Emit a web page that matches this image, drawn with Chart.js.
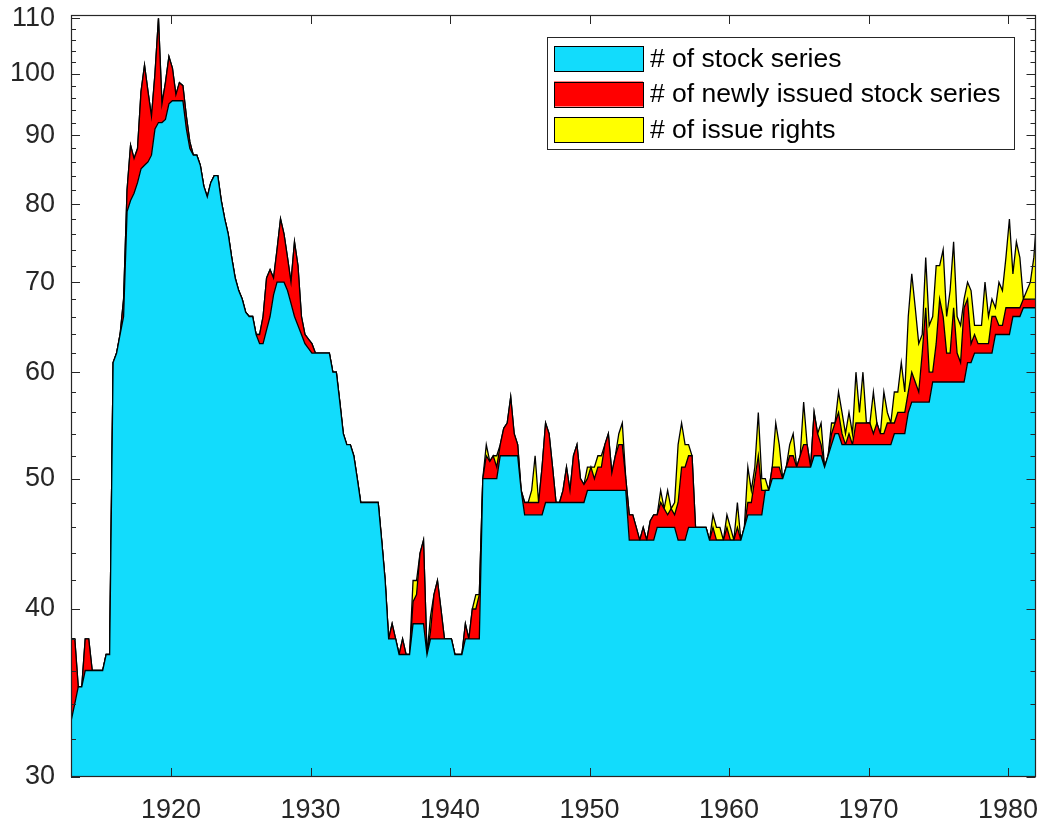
<!DOCTYPE html>
<html>
<head>
<meta charset="utf-8">
<script src="https://cdn.jsdelivr.net/npm/chart.js@4/dist/chart.umd.min.js"></script>
<style>
html,body{margin:0;padding:0;background:#fff;}
#wrap{width:1045px;height:825px;position:relative;}
</style>
</head>
<body>
<div id="wrap"><canvas id="c" width="1045" height="825"></canvas></div>
<script>
// ---- time grid (years) ----
const startYear = 1912.83;
const endYear = 1981.97;
const quarterOffsets = [0.10, 0.35, 0.60, 0.85];

// ---- tick labels ----
const xTickYears = [1920, 1930, 1940, 1950, 1960, 1970, 1980];
const yTickValues = [30,32,34,36,38,40,42,44,46,48,50,52,54,56,58,60,62,64,66,68,70,72,74,76,78,80,82,84,86,88,90,92,94,96,98,100,102,104,106,108,110];

// ---- series labels ----
const seriesNames = ['# of stock series', '# of newly issued stock series', '# of issue rights'];

// ---- # of stock series (first point, then 4 per year 1913..1981, then last point) ----
const stockSeries = [
  33,
  34, 35, 35, 36,       // 1913
  36, 36, 36, 36,       // 1914
  36, 37, 37, 61,       // 1915
  62, 64, 66, 79,       // 1916
  80.5, 81.5, 83, 85,   // 1917
  85.5, 86, 87, 91,     // 1918
  92, 92, 92.5, 95,     // 1919
  95.5, 95.5, 95.5, 95.5, // 1920
  91, 88, 87, 87,       // 1921
  85.5, 82.5, 81, 83,   // 1922
  84, 84, 80.5, 78,     // 1923
  76, 73, 70.5, 69,     // 1924
  68, 66.5, 66, 66,     // 1925
  64, 63, 63, 64.5,     // 1926
  66, 68.5, 70, 70,     // 1927
  70, 69, 67.5, 66,     // 1928
  65, 64, 63, 62.5,     // 1929
  62, 62, 62, 62,       // 1930
  62, 62, 60, 60,       // 1931
  57, 54, 53, 53,       // 1932
  52, 50, 48, 48,       // 1933
  48, 48, 48, 48,       // 1934
  45, 42, 38, 38,       // 1935
  38, 37, 37, 37,       // 1936
  37, 39, 39, 39,       // 1937
  39, 37, 38, 38,       // 1938
  38, 38, 38, 38,       // 1939
  38, 37, 37, 37,       // 1940
  38, 38, 38, 38,       // 1941
  38, 50, 50, 50,       // 1942
  50, 50, 52, 52,       // 1943
  52, 52, 52, 52,       // 1944
  49, 47, 47, 47,       // 1945
  47, 47, 47, 48,       // 1946
  48, 48, 48, 48,       // 1947
  48, 48, 48, 48,       // 1948
  48, 48, 48, 49,       // 1949
  49, 49, 49, 49,       // 1950
  49, 49, 49, 49,       // 1951
  49, 49, 49, 45,       // 1952
  45, 45, 45, 45,       // 1953
  45, 45, 45, 46,       // 1954
  46, 46, 46, 46,       // 1955
  46, 45, 45, 45,       // 1956
  46, 46, 46, 46,       // 1957
  46, 46, 45, 45,       // 1958
  45, 45, 45, 45,       // 1959
  45, 45, 45, 45,       // 1960
  46, 47, 47, 47,       // 1961
  47, 47, 49, 49,       // 1962
  50, 50, 50, 50,       // 1963
  51, 51, 51, 51,       // 1964
  51, 51, 51, 51,       // 1965
  52, 52, 52, 51,       // 1966
  52, 53, 54, 54,       // 1967
  53, 53, 53, 53,       // 1968
  53, 53, 53, 53,       // 1969
  53, 53, 53, 53,       // 1970
  53, 53, 53, 54,       // 1971
  54, 54, 54, 56,       // 1972
  57, 57, 57, 57,       // 1973
  57, 57, 59, 59,       // 1974
  59, 59, 59, 59,       // 1975
  59, 59, 59, 59,       // 1976
  61, 61, 62, 62,       // 1977
  62, 62, 62, 62,       // 1978
  64, 64, 64, 64,       // 1979
  64, 66, 66, 66,       // 1980
  67, 67, 67, 67,       // 1981
  67
];

// ---- # of newly issued stock series ----
const newIssueSeries = [
  5,
  4, 0, 0, 2,           // 1913
  2, 0, 0, 0,           // 1914
  0, 0, 0, 0,           // 1915
  0, 0, 2, 3,           // 1916
  8, 5, 5, 12,          // 1917
  16, 11, 6, 9,         // 1918
  18, 3, 6, 8,          // 1919
  5.5, 1, 3, 2.5,       // 1920
  2, 1, 0, 0,           // 1921
  0, 0, 0, 0,           // 1922
  0, 0, 0, 0,           // 1923
  0, 0, 0, 0,           // 1924
  0, 0, 0, 0,           // 1925
  0, 1, 3, 6,           // 1926
  5.5, 2, 4, 8,         // 1927
  6, 4, 2.5, 9,         // 1928
  7, 2, 1, 1,           // 1929
  1, 0, 0, 0,           // 1930
  0, 0, 0, 0,           // 1931
  0, 0, 0, 0,           // 1932
  0, 0, 0, 0,           // 1933
  0, 0, 0, 0,           // 1934
  0, 0, 0, 1,           // 1935
  0, 0, 1, 0,           // 1936
  0, 1.5, 2, 5,         // 1937
  6, 0, 0.5, 3,         // 1938
  4, 2, 0, 0,           // 1939
  0, 0, 0, 0,           // 1940
  1, 0, 2, 2,           // 1941
  3, 0, 2, 1.5,         // 1942
  2, 1, 1, 2.5,         // 1943
  3, 5.5, 2, 1,         // 1944
  0, 1, 1, 1,           // 1945
  1, 1, 4, 7,           // 1946
  6, 3, 0, 0,           // 1947
  1, 3, 1, 4,           // 1948
  5, 2, 1.5, 1,         // 1949
  2, 1, 2, 2,           // 1950
  4, 5, 1.5, 3,         // 1951
  4, 4, 1, 2,           // 1952
  2, 1, 0, 1,           // 1953
  0, 1.5, 2, 1,         // 1954
  2, 1.5, 1, 1.5,       // 1955
  1, 3, 6, 6,           // 1956
  6, 6, 0, 0,           // 1957
  0, 0, 0, 1,           // 1958
  0, 0, 0, 1,           // 1959
  0, 0, 1, 0,           // 1960
  0, 1, 1, 3,           // 1961
  5, 2, 0, 0,           // 1962
  1, 1, 1, 0,           // 1963
  0, 1, 1, 0,           // 1964
  1, 2, 2, 0,           // 1965
  4, 2, 1, 0,           // 1966
  0, 1, 1, 2,           // 1967
  1, 0, 1, 0,           // 1968
  2, 2, 2, 2,           // 1969
  2, 1, 2, 1,           // 1970
  1, 2, 2, 1,           // 1971
  2, 2, 2, 2,           // 1972
  3, 2, 1, 5,           // 1973
  10, 3, 1, 4,          // 1974
  9, 7, 3, 3,           // 1975
  8, 3, 2, 8,           // 1976
  7, 2, 2, 1,           // 1977
  1, 1, 1, 4,           // 1978
  2, 1, 1, 3,           // 1979
  3, 1, 1, 1,           // 1980
  1, 1, 1, 1,           // 1981
  1
];

// ---- # of issue rights ----
const issueRightsSeries = [
  0,
  0, 0, 0, 0,           // 1913
  0, 0, 0, 0,           // 1914
  0, 0, 0, 0,           // 1915
  0, 0, 0, 0,           // 1916
  0, 0, 0, 0,           // 1917
  0, 0, 0, 0,           // 1918
  0, 0, 0, 0,           // 1919
  0, 0, 0, 0,           // 1920
  0, 0, 0, 0,           // 1921
  0, 0, 0, 0,           // 1922
  0, 0, 0, 0,           // 1923
  0, 0, 0, 0,           // 1924
  0, 0, 0, 0,           // 1925
  0, 0, 0, 0,           // 1926
  0, 0, 0, 0,           // 1927
  0, 0, 0, 0,           // 1928
  0, 0, 0, 0,           // 1929
  0, 0, 0, 0,           // 1930
  0, 0, 0, 0,           // 1931
  0, 0, 0, 0,           // 1932
  0, 0, 0, 0,           // 1933
  0, 0, 0, 0,           // 1934
  0, 0, 0, 0,           // 1935
  0, 0, 0, 0,           // 1936
  0, 1.5, 1, 0,         // 1937
  0, 0, 1, 0,           // 1938
  0, 0, 0, 0,           // 1939
  0, 0, 0, 0,           // 1940
  0, 0, 0, 1,           // 1941
  0, 0, 1, 0,           // 1942
  0, 1, 0, 0,           // 1943
  0, 0, 0, 0,           // 1944
  0, 0, 0, 1,           // 1945
  4, 0, 0, 0,           // 1946
  0, 0, 0, 0,           // 1947
  0, 0, 0, 0,           // 1948
  0, 0, 0, 1,           // 1949
  0, 1, 1, 1,           // 1950
  0, 0, 0, 0,           // 1951
  1, 2, 0, 0,           // 1952
  0, 0, 0, 0,           // 1953
  0, 0, 0, 0,           // 1954
  1, 0, 2, 0,           // 1955
  1, 5, 4, 2,           // 1956
  1, 0, 0, 0,           // 1957
  0, 0, 0, 1,           // 1958
  1, 1, 0, 1,           // 1959
  1, 0, 2, 0,           // 1960
  0, 3, 1, 1,           // 1961
  4, 1, 1, 0,           // 1962
  0, 4, 2, 0,           // 1963
  0, 1, 2, 0,           // 1964
  0, 4, 0, 0,           // 1965
  0, 0, 2, 0,           // 1966
  0, 1, 0, 2,           // 1967
  2, 1, 2, 1,           // 1968
  5, 1, 5, 0,           // 1969
  0, 4, 0, 0,           // 1970
  4, 1, 0, 3,           // 1971
  2, 5, 2, 8,           // 1972
  11, 8, 5, 2,          // 1973
  6, 5, 6, 9,           // 1974
  4, 8, 4, 7,           // 1975
  8, 4, 4, 1,           // 1976
  2, 6, 1, 2,           // 1977
  2, 7, 3, 2,           // 1978
  1, 5, 4, 6,           // 1979
  11, 4, 8, 6,          // 1980
  0, 1, 2, 5,           // 1981
  8
];

// ---- build x positions of the samples ----
const sampleYears = [startYear];
for (let y = 1913; y <= 1981; y++) {
  for (const q of quarterOffsets) sampleYears.push(+(y + q).toFixed(2));
}
sampleYears.push(endYear);

// stacked boundaries (log axis cannot stack zero values, so the tops are summed here)
const stockTop = stockSeries.slice();
const newTop = stockSeries.map((v, i) => v + newIssueSeries[i]);
const rightsTop = newTop.map((v, i) => v + issueRightsSeries[i]);
const toPoints = arr => arr.map((v, i) => ({ x: sampleYears[i], y: v }));

const FONT = "'Liberation Sans', Arial, Helvetica, sans-serif";
const FONT_SIZE = 27;
const LEGEND_FONT_SIZE = 26.5;
const TICK_COLOR = '#262626';
const colors = ['#12DCFC', '#FF0000', '#FFFF00'];

// inward tick marks on all four sides and the axes box (MATLAB style)
const boxTicks = {
  id: 'boxTicks',
  afterDatasetsDraw(chart) {
    const { ctx, chartArea: a, scales } = chart;
    const xs = scales.x, ys = scales.y;
    ctx.save();
    ctx.strokeStyle = TICK_COLOR;
    ctx.lineWidth = 1;
    ctx.beginPath();
    yTickValues.forEach(v => {
      const y = Math.round(ys.getPixelForValue(v)) + 0.5;
      const len = v % 10 === 0 ? 9 : 5;
      ctx.moveTo(a.left, y); ctx.lineTo(a.left + len, y);
      ctx.moveTo(a.right, y); ctx.lineTo(a.right - len, y);
    });
    xTickYears.forEach(v => {
      const x = Math.round(xs.getPixelForValue(v)) + 0.5;
      ctx.moveTo(x, a.bottom); ctx.lineTo(x, a.bottom - 9);
      ctx.moveTo(x, a.top); ctx.lineTo(x, a.top + 9);
    });
    ctx.stroke();
    ctx.lineWidth = 1.2;
    ctx.strokeRect(Math.round(a.left) + 0.5, Math.round(a.top) + 0.5,
                   Math.round(a.right - a.left) - 1, Math.round(a.bottom - a.top) - 1);
    ctx.restore();
  }
};

// legend box in the upper right of the axes
const boxLegend = {
  id: 'boxLegend',
  afterDraw(chart) {
    const ctx = chart.ctx;
    ctx.save();
    ctx.fillStyle = '#fff';
    ctx.fillRect(547, 37, 467, 112);
    ctx.strokeStyle = TICK_COLOR;
    ctx.lineWidth = 1;
    ctx.strokeRect(547.5, 37.5, 467, 112);
    chart.data.datasets.forEach((ds, i) => {
      const y = 46 + i * 35.5;
      ctx.fillStyle = ds.backgroundColor;
      ctx.fillRect(554, y, 89, 25);
      ctx.strokeStyle = '#000';
      ctx.strokeRect(554.5, Math.round(y) + 0.5, 89, 25);
      ctx.fillStyle = '#000';
      ctx.font = LEGEND_FONT_SIZE + 'px ' + FONT;
      ctx.textBaseline = 'middle';
      ctx.textAlign = 'left';
      ctx.fillText(ds.label, 650, y + 13.5);
    });
    ctx.restore();
  }
};

const lineCommon = {
  borderColor: '#000',
  borderWidth: 1.3,
  pointRadius: 0,
  tension: 0
};

new Chart(document.getElementById('c'), {
  type: 'line',
  data: {
    datasets: [
      Object.assign({ label: seriesNames[0], data: toPoints(stockTop), backgroundColor: colors[0], fill: 'start' }, lineCommon),
      Object.assign({ label: seriesNames[1], data: toPoints(newTop), backgroundColor: colors[1], fill: '-1' }, lineCommon),
      Object.assign({ label: seriesNames[2], data: toPoints(rightsTop), backgroundColor: colors[2], fill: '-1' }, lineCommon)
    ]
  },
  options: {
    responsive: false,
    animation: false,
    devicePixelRatio: 1,
    layout: { padding: { top: 15, right: 9.5, left: 0, bottom: 0 } },
    plugins: { legend: { display: false }, tooltip: { enabled: false } },
    scales: {
      x: {
        type: 'linear',
        min: startYear,
        max: endYear,
        grid: { display: false, drawTicks: false },
        border: { display: false },
        afterBuildTicks: s => { s.ticks = xTickYears.map(v => ({ value: v })); },
        afterFit: s => { s.height = 48; s.paddingLeft = 0; s.paddingRight = 0; },
        ticks: {
          autoSkip: false, maxRotation: 0, padding: 17,
          color: TICK_COLOR, font: { family: FONT, size: FONT_SIZE },
          callback: v => String(v)
        }
      },
      y: {
        type: 'logarithmic',
        min: 30,
        max: 110.6,
        grid: { display: false, drawTicks: false },
        border: { display: false },
        afterBuildTicks: s => { s.ticks = yTickValues.map(v => ({ value: v })); },
        afterFit: s => { s.width = 71; s.paddingTop = 0; s.paddingBottom = 0; },
        ticks: {
          autoSkip: false, padding: 16,
          color: TICK_COLOR, font: { family: FONT, size: FONT_SIZE },
          callback: v => (v % 10 === 0 ? String(v) : '')
        }
      }
    }
  },
  plugins: [boxTicks, boxLegend]
});
</script>
</body>
</html>
